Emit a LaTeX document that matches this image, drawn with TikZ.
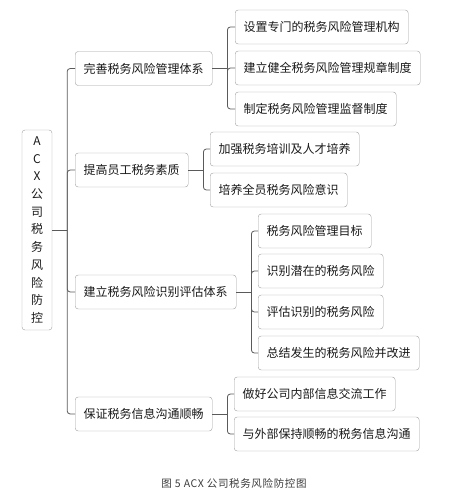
\documentclass[tikz,border=0pt]{standalone}
\usepackage{fontspec}
\setmainfont{Noto Sans CJK SC}
\newfontfamily\capfont[LetterSpace=6]{Noto Sans CJK SC}
\usepackage{tikz}
\usetikzlibrary{calc}
\definecolor{frame}{HTML}{A0A0A0}
\definecolor{wire}{HTML}{5A5A5A}
\definecolor{ink}{HTML}{1A1A1A}
\tikzset{
  box/.style={draw=frame, rounded corners=3pt, fill=white, inner xsep=8.5pt,
    minimum height=34pt, anchor=west, text=ink,
    font=\fontsize{12pt}{14pt}\selectfont},
  link/.style={draw=wire, line width=0.8pt, rounded corners=3pt},
}
\newcommand{\Fork}[2]{%
  \coordinate (#1-j) at ($(#1.east)+(15pt,0)$);
  \draw[link] (#1.east) -- (#1-j);
  \foreach \k in {#2} \draw[link] (#1-j) |- (\k.west);
}

\begin{document}
\begin{tikzpicture}[x=1pt,y=-1pt]
  \useasboundingbox (0,0) rectangle (466,489);
  % root
  \node[box, anchor=center, minimum width=30pt, minimum height=200pt,
    inner xsep=2pt, align=center, font=\fontsize{12pt}{17.7pt}\selectfont]
    (root) at (37,230) {A\\C\\X\\公\\司\\税\\务\\风\\险\\防\\控};
  % first level
  \node[box] (a) at (75,68.5) {完善税务风险管理体系};
  \node[box] (b) at (75,170) {提高员工税务素质};
  \node[box] (c) at (75,292) {建立税务风险识别评估体系};
  \node[box] (d) at (75,414) {保证税务信息沟通顺畅};
  % second level
  \node[box] (a1) at (235,27) {设置专门的税务风险管理机构};
  \node[box] (a2) at (235,68) {建立健全税务风险管理规章制度};
  \node[box] (a3) at (235,109) {制定税务风险管理监督制度};
  \node[box] (b1) at (210,149) {加强税务培训及人才培养};
  \node[box] (b2) at (210,190) {培养全员税务风险意识};
  \node[box] (c1) at (258,231) {税务风险管理目标};
  \node[box] (c2) at (258,271) {识别潜在的税务风险};
  \node[box] (c3) at (258,312) {评估识别的税务风险};
  \node[box] (c4) at (258,353) {总结发生的税务风险并改进};
  \node[box] (d1) at (234,394) {做好公司内部信息交流工作};
  \node[box] (d2) at (234,434) {与外部保持顺畅的税务信息沟通};
  % connectors
  \Fork{root}{a,b,c,d}
  \Fork{a}{a1,a2,a3}
  \Fork{b}{b1,b2}
  \Fork{c}{c1,c2,c3,c4}
  \Fork{d}{d1,d2}
  % caption
  \node[text=ink!85, font=\capfont\fontsize{10.5pt}{12pt}\selectfont] (caption) at (234,483)
    {图 5 ACX 公司税务风险防控图};
\end{tikzpicture}
\end{document}
